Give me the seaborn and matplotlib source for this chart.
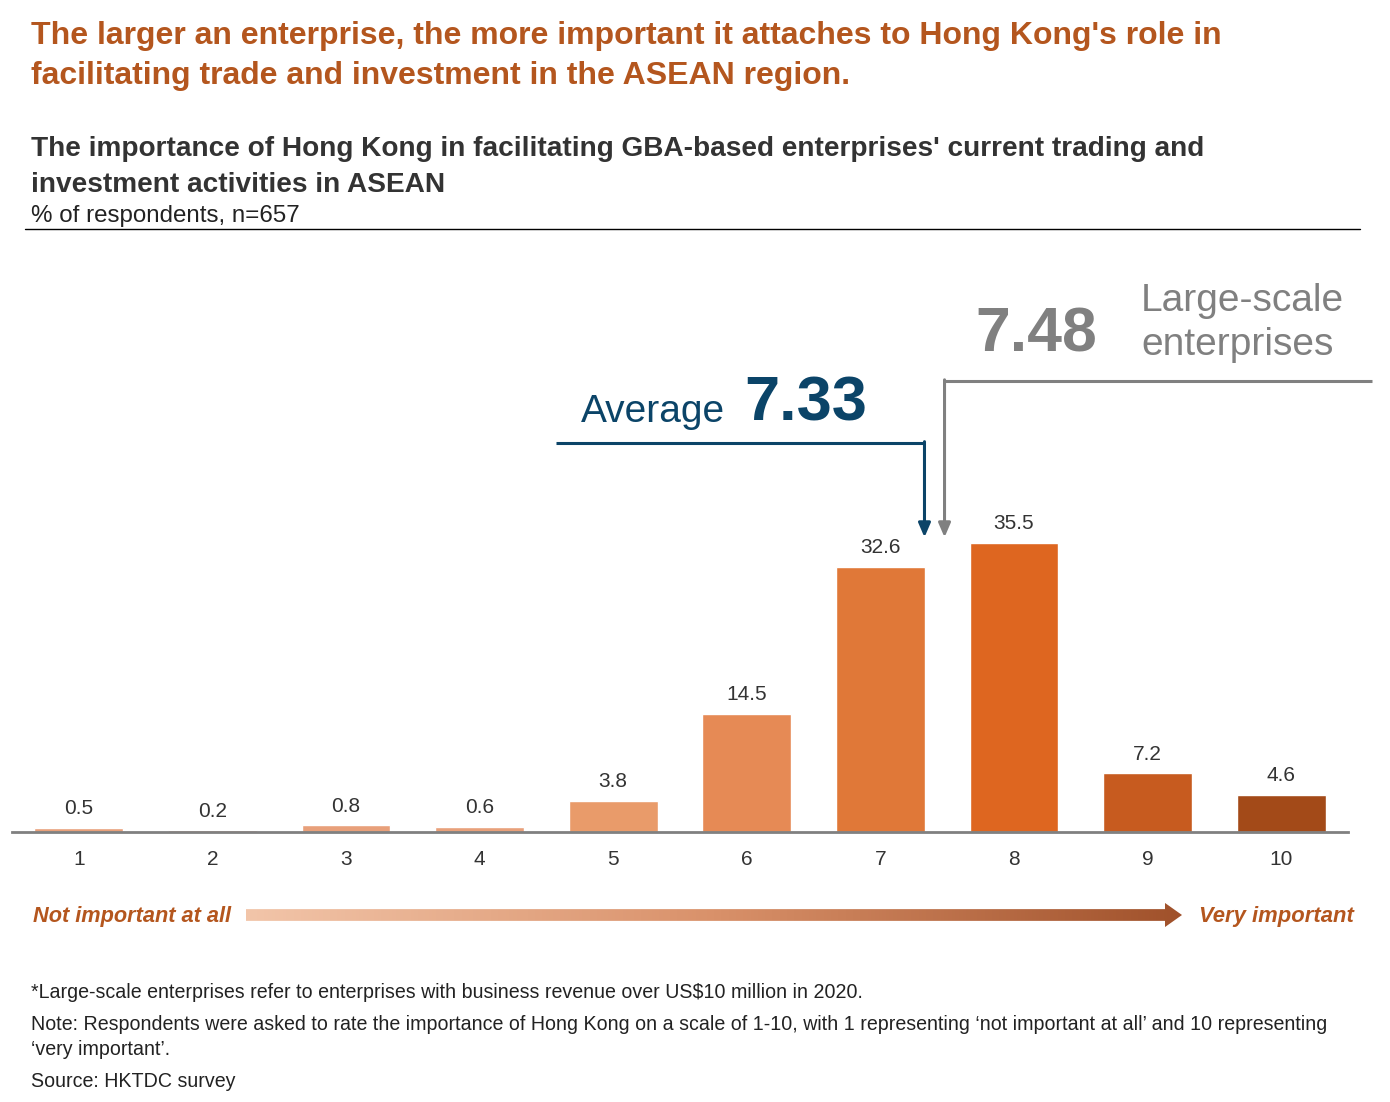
import numpy as np
import pandas as pd
import matplotlib
matplotlib.use('Agg')
import matplotlib.pyplot as plt
import seaborn as sns
from matplotlib.patches import Polygon

# Data
scores = ['1', '2', '3', '4', '5', '6', '7', '8', '9', '10']
share = [0.5, 0.2, 0.8, 0.6, 3.8, 14.5, 32.6, 35.5, 7.2, 4.6]
bar_colors = ['#E8A07A', '#E8A07A', '#E8A07A', '#E8A07A', '#E99B6A',
              '#E68A55', '#E07838', '#DE6620', '#C75B1F', '#A34A18']
avg_all = 7.33
avg_large = 7.48

title_lines = ["The larger an enterprise, the more important it attaches to Hong Kong's role in",
               "facilitating trade and investment in the ASEAN region."]
subtitle_lines = ["The importance of Hong Kong in facilitating GBA-based enterprises' current trading and",
                  "investment activities in ASEAN"]
unit_text = "% of respondents, n=657"
notes = ["*Large-scale enterprises refer to enterprises with business revenue over US$10 million in 2020.",
         "Note: Respondents were asked to rate the importance of Hong Kong on a scale of 1-10, with 1 representing \u2018not important at all\u2019 and 10 representing",
         "\u2018very important\u2019.",
         "Source: HKTDC survey"]

df = pd.DataFrame({'score': scores, 'share': share})

sns.set_theme(style='white')
plt.rcParams['font.family'] = ['Liberation Sans', 'DejaVu Sans']

W, H = 1390, 1102
fig = plt.figure(figsize=(W / 100, H / 100), dpi=100)


def fx(px):
    return px / W


def fy(py):
    return 1 - py / H


# Titles
orange = '#B4561E'
fig.text(fx(31), fy(44), title_lines[0], fontsize=23, fontweight='bold', color=orange, va='baseline')
fig.text(fx(31), fy(84), title_lines[1], fontsize=23, fontweight='bold', color=orange, va='baseline')
fig.text(fx(31), fy(156), subtitle_lines[0], fontsize=20.2, fontweight='bold', color='#333333', va='baseline')
fig.text(fx(31), fy(192), subtitle_lines[1], fontsize=20.2, fontweight='bold', color='#333333', va='baseline')
fig.text(fx(31), fy(222), unit_text, fontsize=17.4, color='#222222', va='baseline')
fig.add_artist(plt.Line2D([fx(25), fx(1360)], [fy(229), fy(229)], color='black', lw=1))

# Bar chart
ax_bottom, ax_top = 832, 250
px_per_unit = 8.14
ax = fig.add_axes([fx(12), fy(ax_bottom), fx(1348) - fx(12), (ax_bottom - ax_top) / H])
sns.barplot(data=df, x='score', y='share', hue='score', palette=bar_colors,
            legend=False, width=0.665, saturation=1, ax=ax)
ax.set_xlim(-0.5, 9.5)
ax.set_ylim(0, (ax_bottom - ax_top) / px_per_unit)
for cont in ax.containers:
    ax.bar_label(cont, fmt='%.1f', padding=7, fontsize=15, color='#333333')
ax.set_xlabel('')
ax.set_ylabel('')
ax.set_yticks([])
ax.tick_params(axis='x', length=0, pad=13, labelsize=15, labelcolor='#333333')
for s in ['top', 'left', 'right']:
    ax.spines[s].set_visible(False)
ax.spines['bottom'].set_color('#808080')
ax.spines['bottom'].set_linewidth(2)
ax.patch.set_alpha(0)

# Average arrows (x position in score units, index = score - 1)
navy = '#0B4468'
grey = '#808080'
x_avg = avg_all - 1
x_large = avg_large - 1
y_avg_line = 47.8
y_large_line = 55.4
y_tip = 36.2
ax.plot([3.57, x_avg], [y_avg_line, y_avg_line], color=navy, lw=2.2, clip_on=False, solid_capstyle='butt')
ax.annotate('', xy=(x_avg, y_tip), xytext=(x_avg, y_avg_line + 0.15),
            arrowprops=dict(arrowstyle='-|>,head_length=0.7,head_width=0.3', color=navy, lw=2.2,
                            shrinkA=0, shrinkB=0), annotation_clip=False)
ax.plot([x_large, 9.68], [y_large_line, y_large_line], color=grey, lw=2.2, clip_on=False, solid_capstyle='butt')
ax.annotate('', xy=(x_large, y_tip), xytext=(x_large, y_large_line + 0.15),
            arrowprops=dict(arrowstyle='-|>,head_length=0.7,head_width=0.3', color=grey, lw=2.2,
                            shrinkA=0, shrinkB=0), annotation_clip=False)

fig.text(fx(581), fy(422), 'Average', fontsize=28, color=navy, va='baseline')
fig.text(fx(744), fy(421), f'{avg_all:.2f}', fontsize=45.5, fontweight='bold', color=navy, va='baseline')
fig.text(fx(975), fy(352), f'{avg_large:.2f}', fontsize=45, fontweight='bold', color=grey, va='baseline')
fig.text(fx(1141), fy(311), 'Large-scale', fontsize=28, color=grey, va='baseline')
fig.text(fx(1141), fy(355), 'enterprises', fontsize=28, color=grey, va='baseline')

# Gradient scale arrow
arr = fig.add_axes([fx(246), fy(929), fx(1182) - fx(246), 28 / H])
arr.set_xlim(0, 1)
arr.set_ylim(0, 1)
arr.axis('off')
grad = np.linspace(0, 1, 256).reshape(1, -1)
cmap = matplotlib.colors.LinearSegmentedColormap.from_list('scale', ['#F2C5A9', '#D9916A', '#A0512B'])
img = arr.imshow(grad, cmap=cmap, extent=[0, 1, 0, 1], aspect='auto')
head = 1 - 17 / (1182 - 246)
shape = Polygon([[0, 0.29], [head, 0.29], [head, 0.07], [1, 0.5], [head, 0.93],
                 [head, 0.71], [0, 0.71]], closed=True, transform=arr.transData, facecolor='none', edgecolor='none')
arr.add_patch(shape)
img.set_clip_path(shape)

fig.text(fx(33), fy(922), 'Not important at all', fontsize=15.7, fontweight='bold', style='italic',
         color=orange, va='baseline')
fig.text(fx(1354), fy(922), 'Very important', fontsize=15.8, fontweight='bold', style='italic',
         color=orange, va='baseline', ha='right')

# Footnotes
for txt, base in zip(notes, [998, 1030, 1055, 1087]):
    fig.text(fx(31), fy(base), txt, fontsize=14.1, color='#222222', va='baseline')

fig.savefig('out.png', dpi=100, facecolor='white')
